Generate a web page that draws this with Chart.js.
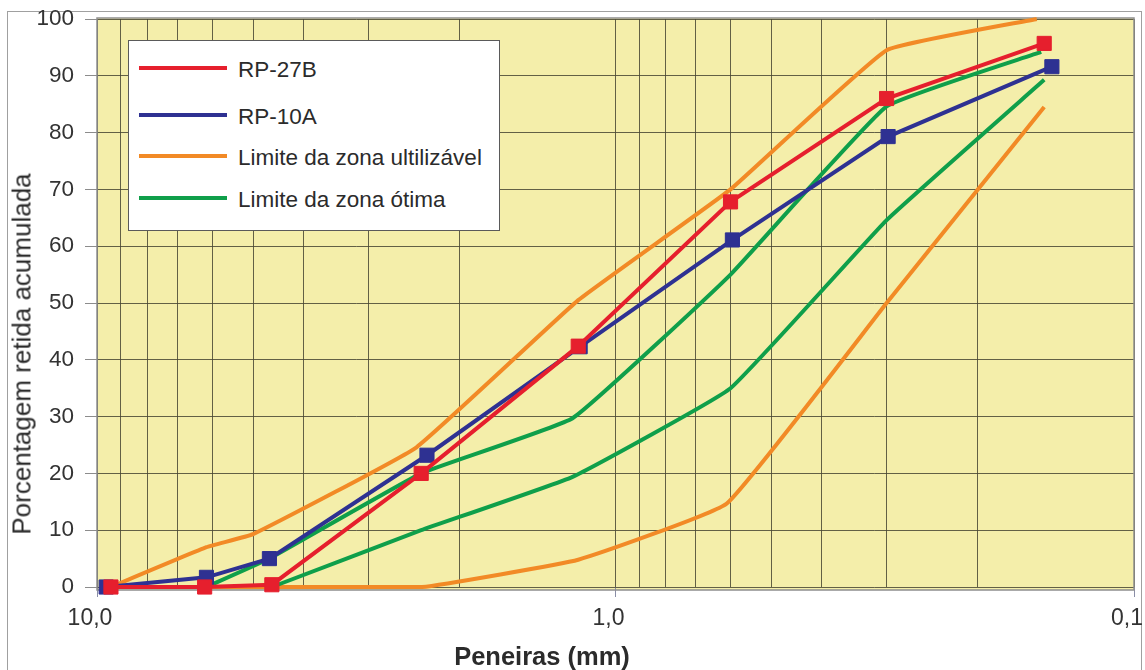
<!DOCTYPE html>
<html lang="pt">
<head>
<meta charset="utf-8">
<title>Curvas granulométricas</title>
<script src="https://cdn.jsdelivr.net/npm/chart.js@4/dist/chart.umd.min.js"></script>
<style>
  html, body { margin: 0; padding: 0; background: #ffffff; }
  #wrap {
    position: relative; width: 1145px; height: 670px; overflow: hidden;
    font-family: "Liberation Sans", Arial, sans-serif; color: #2b2b2b;
  }
  #frame {
    position: absolute; left: 7px; top: 11px; width: 1135px; height: 680px;
    border: 1px solid #a0a0a0; box-sizing: border-box;
  }
  #chart { position: absolute; left: 0; top: 0; }
  #legend {
    position: absolute; left: 128px; top: 40px; width: 372px; height: 191px;
    background: #ffffff; border: 1px solid #5a5a5a; box-sizing: border-box;
  }
  #legend .row {
    position: absolute; left: 10px; height: 30px;
    display: flex; align-items: center; white-space: nowrap;
  }
  #legend .swatch { width: 88px; height: 4px; margin-right: 11px; }
  #legend .name { font-size: 22.5px; line-height: 30px; position: relative; top: 1.5px; color: #2b2b2b; }
  #ytitle {
    position: absolute; left: 21.5px; top: 353.5px; white-space: nowrap;
    transform: translate(-50%, -50%) rotate(-90deg);
    font-size: 26px; color: #2b2b2b;
  }
  #xtitle {
    position: absolute; left: 542px; top: 656px; white-space: nowrap;
    transform: translate(-50%, -50%);
    font-size: 25.5px; font-weight: bold; color: #2b2b2b;
  }
</style>
</head>
<body>
<div id="wrap">
  <div id="frame"></div>
  <canvas id="chart" width="1145" height="670"></canvas>
  <div id="legend"></div>
  <div id="ytitle"></div>
  <div id="xtitle"></div>
</div>
<script>
// Abertura das peneiras (mm) e porcentagem retida acumulada de cada curva
const rp27bSize     = [9.4, 6.2, 4.6, 2.37, 1.18, 0.6, 0.3, 0.149];
const rp27bRetained = [0, 0, 0.4, 20, 42.4, 67.8, 86, 95.7];

const rp10aSize     = [9.6, 6.15, 4.65, 2.31, 1.17, 0.595, 0.298, 0.144];
const rp10aRetained = [0, 1.7, 5, 23.2, 42.3, 61.1, 79.3, 91.6];

// Limites da zona utilizável (superior e inferior)
const usableUpperSize  = [9.4, 6.15, 5.0, 2.42, 1.18, 0.6, 0.3, 0.154];
const usableUpperValue = [0, 7, 9.3, 24.6, 50.5, 70, 94.5, 100];
const usableLowerSize  = [9.4, 6.2, 4.6, 2.36, 1.18, 0.61, 0.3, 0.149];
const usableLowerValue = [0, 0, 0, 0, 4.8, 14.7, 50, 84.5];

// Limites da zona ótima (superior e inferior)
const optimalUpperSize  = [6.15, 4.65, 2.37, 1.21, 0.6, 0.3, 0.151];
const optimalUpperValue = [0, 5, 20, 29.7, 55, 84.6, 94.2];
const optimalLowerSize  = [4.6, 2.37, 1.21, 0.6, 0.3, 0.149];
const optimalLowerValue = [0, 10, 19.4, 35, 64.6, 89.3];

// Legenda
const seriesNames  = ['RP-27B', 'RP-10A', 'Limite da zona ultilizável', 'Limite da zona ótima'];
const seriesColors = ['#e61f2d', '#2e3192', '#f28a26', '#0f9f4a'];

// Eixos
const xGridValues  = [10, 9, 8, 7, 6, 5, 4, 3, 2, 1, 0.9, 0.8, 0.7, 0.6, 0.5, 0.4, 0.3, 0.2, 0.1];
const xMajorTicks  = [10, 1, 0.1];
const xMajorLabels = ['10,0', '1,0', '0,1'];
const yTickStep = 10;
const xTitle = 'Peneiras (mm)';
const yTitle = 'Porcentagem retida acumulada';

const FONT = '"Liberation Sans", Arial, sans-serif';
const GRID = 'rgba(72, 70, 52, 0.85)';

const pairs = (xs, ys) => xs.map((x, i) => ({ x, y: ys[i] }));

function sampleSet(name, color, xs, ys) {
  return {
    label: name, data: pairs(xs, ys),
    borderColor: color, backgroundColor: color, borderWidth: 4,
    pointStyle: 'rect', pointRadius: 10, pointHoverRadius: 10,
    pointBorderWidth: 1, pointBorderColor: color, pointBackgroundColor: color,
    tension: 0, clip: false
  };
}
function limitSet(name, color, xs, ys) {
  return {
    label: name, data: pairs(xs, ys),
    borderColor: color, backgroundColor: color, borderWidth: 4,
    pointRadius: 0, pointHoverRadius: 0, tension: 0.1, clip: false,
    borderCapStyle: 'butt', borderJoinStyle: 'round'
  };
}

// Fundo amarelo e moldura da área de plotagem
const plotBackdrop = {
  id: 'plotBackdrop',
  beforeDraw(chart) {
    const { ctx, chartArea: a } = chart;
    ctx.save();
    ctx.fillStyle = '#f4eeaa';
    ctx.fillRect(a.left, a.top - 1, a.right - a.left, a.bottom - a.top + 4);
    ctx.restore();
  },
  beforeDatasetsDraw(chart) {
    const { ctx, chartArea: a } = chart;
    ctx.save();
    ctx.strokeStyle = '#8e8e8e';
    ctx.lineWidth = 1.5;
    ctx.strokeRect(a.left, a.top - 1, a.right - a.left, a.bottom - a.top + 4);
    ctx.restore();
  }
};

const chart = new Chart(document.getElementById('chart'), {
  type: 'line',
  data: {
    datasets: [
      sampleSet(seriesNames[0], seriesColors[0], rp27bSize, rp27bRetained),
      sampleSet(seriesNames[1], seriesColors[1], rp10aSize, rp10aRetained),
      limitSet(seriesNames[3], seriesColors[3], optimalUpperSize, optimalUpperValue),
      limitSet(seriesNames[3], seriesColors[3], optimalLowerSize, optimalLowerValue),
      limitSet(seriesNames[2], seriesColors[2], usableUpperSize, usableUpperValue),
      limitSet(seriesNames[2], seriesColors[2], usableLowerSize, usableLowerValue)
    ]
  },
  options: {
    responsive: false,
    devicePixelRatio: 1,
    animation: false,
    events: [],
    layout: { padding: { left: 0, right: 8, top: 19, bottom: 0 } },
    plugins: { legend: { display: false }, tooltip: { enabled: false } },
    scales: {
      x: {
        type: 'logarithmic',
        reverse: true,
        min: 0.1, max: 10,
        afterBuildTicks(scale) {
          scale.ticks = xGridValues.map(v => ({ value: v }));
        },
        ticks: {
          autoSkip: false, maxRotation: 0, minRotation: 0,
          labelOffset: -7, padding: 8,
          color: '#333333', font: { family: FONT, size: 23 },
          callback(value) {
            const i = xMajorTicks.indexOf(value);
            return i >= 0 ? xMajorLabels[i] : '';
          }
        },
        grid: {
          color: GRID, lineWidth: 1, tickLength: 10,
          tickColor: c => (c.tick && xMajorTicks.includes(c.tick.value)) ? '#8a8ea6' : 'rgba(0,0,0,0)'
        },
        border: { display: false },
        afterFit(scale) { scale.height = 83; scale.paddingLeft = 0; scale.paddingRight = 0; }
      },
      y: {
        type: 'linear',
        min: 0, max: 100,
        ticks: {
          stepSize: yTickStep, padding: 11,
          color: '#333333', font: { family: FONT, size: 22.5 }
        },
        grid: { color: GRID, lineWidth: 1, tickLength: 12, tickColor: '#8c8c8c' },
        border: { display: false },
        afterFit(scale) { scale.width = 97; scale.paddingTop = 0; scale.paddingBottom = 0; }
      }
    }
  },
  plugins: [plotBackdrop]
});

// Legenda em caixa branca sobre o gráfico
const legendRowsY = [68, 115, 156, 198];
const legend = document.getElementById('legend');
seriesNames.forEach((name, i) => {
  const row = document.createElement('div');
  row.className = 'row';
  row.style.top = (legendRowsY[i] - 40 - 1 - 15) + 'px';
  const sw = document.createElement('span');
  sw.className = 'swatch';
  sw.style.background = seriesColors[i];
  const tx = document.createElement('span');
  tx.className = 'name';
  tx.textContent = name;
  row.appendChild(sw);
  row.appendChild(tx);
  legend.appendChild(row);
});

document.getElementById('xtitle').textContent = xTitle;
document.getElementById('ytitle').textContent = yTitle;
</script>
</body>
</html>
